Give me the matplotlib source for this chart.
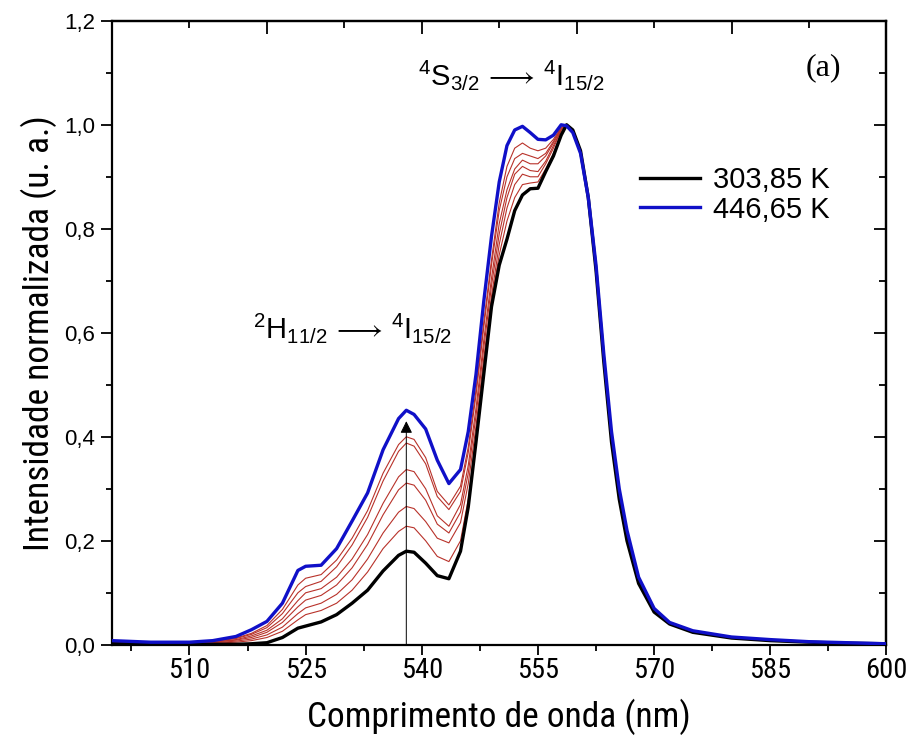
import matplotlib
matplotlib.use("Agg")
import matplotlib.pyplot as plt
from matplotlib import font_manager
from matplotlib.font_manager import FontProperties
from matplotlib.ticker import FixedLocator, FuncFormatter, MultipleLocator

# ---------------- fonts ----------------
SANS = 'Liberation Sans'
SERIF = 'Liberation Serif'


def find_narrow():
    prefs = ['Liberation Sans Narrow', 'Arial Narrow', 'Roboto Condensed',
             'Open Sans Condensed', 'Noto Sans', 'Open Sans', 'Roboto', 'DejaVu Sans']
    cands = []
    for f in font_manager.fontManager.ttflist:
        st = f.stretch
        if isinstance(st, str):
            st = font_manager.stretch_dict.get(st, 500)
        lowfile = f.fname.lower()
        narrowish = (st < 500) or ('narrow' in lowfile) or ('condensed' in lowfile) \
            or ('narrow' in f.name.lower()) or ('condensed' in f.name.lower())
        if not narrowish:
            continue
        if f.style != 'normal':
            continue
        w = f.weight if isinstance(f.weight, int) else font_manager.weight_dict.get(f.weight, 400)
        if w != 400:
            continue
        cands.append((f.name, f.fname))
    for p in prefs:
        for name, fn in cands:
            if name == p:
                return fn
    return None


narrow_file = find_narrow()
if narrow_file:
    NARROW_FP = lambda size: FontProperties(fname=narrow_file, size=size)
else:
    NARROW_FP = lambda size: FontProperties(family=SANS, size=size)

plt.rcParams['font.family'] = [SANS, 'DejaVu Sans']
plt.rcParams['mathtext.fontset'] = 'custom'
plt.rcParams['mathtext.rm'] = SANS
plt.rcParams['mathtext.it'] = SANS
plt.rcParams['mathtext.fallback'] = 'stixsans'

# ---------------- data ----------------
wavelength = [500, 505, 510, 513, 516, 518, 520, 522, 524, 525, 527, 529, 531, 533, 535,
              537, 538, 539, 540.5, 542, 543.5, 545, 546, 547, 548, 549, 550, 551, 552,
              553, 554, 555, 556, 557, 558, 558.7, 559.5, 560.5, 561.5, 562.5, 563.5,
              564.5, 565.5, 566.5, 568, 570, 572, 575, 580, 585, 590, 595, 600]

black_303 = [0.002, 0.001, 0.001, 0.001, 0.001, 0.002, 0.004, 0.014, 0.032, 0.036, 0.044,
             0.058, 0.080, 0.105, 0.142, 0.172, 0.180, 0.178, 0.157, 0.133, 0.127, 0.180,
             0.265, 0.390, 0.520, 0.650, 0.730, 0.780, 0.835, 0.865, 0.877, 0.878, 0.910,
             0.940, 0.980, 1.000, 0.990, 0.950, 0.860, 0.720, 0.545, 0.390, 0.280, 0.200,
             0.118, 0.063, 0.040, 0.024, 0.013, 0.008, 0.005, 0.003, 0.002]

red_1 = [0.003, 0.002, 0.002, 0.003, 0.005, 0.008, 0.014, 0.026, 0.048, 0.058, 0.066,
         0.080, 0.105, 0.140, 0.185, 0.218, 0.228, 0.225, 0.200, 0.170, 0.160, 0.200,
         0.280, 0.400, 0.535, 0.660, 0.750, 0.815, 0.860, 0.885, 0.888, 0.890, 0.915,
         0.945, 0.985, 1.000, 0.990, 0.950, 0.860, 0.720, 0.550, 0.395, 0.285, 0.205,
         0.120, 0.065, 0.041, 0.025, 0.014, 0.009, 0.005, 0.003, 0.002]

red_2 = [0.004, 0.003, 0.003, 0.004, 0.007, 0.011, 0.019, 0.034, 0.060, 0.071, 0.080,
         0.097, 0.125, 0.165, 0.215, 0.255, 0.266, 0.262, 0.237, 0.205, 0.196, 0.235,
         0.310, 0.420, 0.550, 0.670, 0.770, 0.840, 0.885, 0.905, 0.900, 0.900, 0.925,
         0.955, 0.990, 1.000, 0.988, 0.948, 0.860, 0.720, 0.550, 0.400, 0.288, 0.208,
         0.122, 0.066, 0.041, 0.025, 0.014, 0.009, 0.005, 0.003, 0.002]

red_3 = [0.004, 0.003, 0.003, 0.005, 0.009, 0.014, 0.024, 0.043, 0.073, 0.086, 0.095,
         0.115, 0.148, 0.193, 0.250, 0.298, 0.311, 0.307, 0.278, 0.232, 0.215, 0.255,
         0.330, 0.440, 0.570, 0.690, 0.790, 0.860, 0.905, 0.920, 0.912, 0.910, 0.930,
         0.960, 0.990, 1.000, 0.988, 0.948, 0.860, 0.722, 0.552, 0.402, 0.290, 0.210,
         0.123, 0.067, 0.042, 0.026, 0.014, 0.009, 0.005, 0.003, 0.002]

red_4 = [0.005, 0.003, 0.003, 0.005, 0.010, 0.017, 0.028, 0.050, 0.085, 0.100, 0.108,
         0.130, 0.165, 0.212, 0.272, 0.323, 0.337, 0.333, 0.300, 0.248, 0.228, 0.270,
         0.345, 0.455, 0.585, 0.705, 0.810, 0.875, 0.915, 0.932, 0.925, 0.925, 0.940,
         0.965, 0.992, 1.000, 0.988, 0.948, 0.862, 0.724, 0.554, 0.404, 0.292, 0.212,
         0.124, 0.067, 0.042, 0.026, 0.014, 0.009, 0.005, 0.003, 0.002]

red_5 = [0.005, 0.004, 0.004, 0.006, 0.012, 0.020, 0.033, 0.060, 0.100, 0.112, 0.122,
         0.150, 0.192, 0.245, 0.315, 0.372, 0.388, 0.382, 0.348, 0.285, 0.260, 0.295,
         0.370, 0.480, 0.610, 0.730, 0.835, 0.900, 0.935, 0.945, 0.940, 0.935, 0.945,
         0.968, 0.994, 1.000, 0.987, 0.947, 0.862, 0.726, 0.556, 0.406, 0.294, 0.214,
         0.125, 0.068, 0.042, 0.026, 0.015, 0.009, 0.006, 0.004, 0.002]

red_6 = [0.006, 0.004, 0.004, 0.007, 0.013, 0.022, 0.037, 0.068, 0.115, 0.128, 0.135,
         0.163, 0.205, 0.258, 0.330, 0.385, 0.400, 0.395, 0.360, 0.295, 0.269, 0.305,
         0.380, 0.490, 0.620, 0.740, 0.850, 0.920, 0.955, 0.965, 0.955, 0.950, 0.955,
         0.972, 0.995, 1.000, 0.986, 0.946, 0.861, 0.728, 0.558, 0.408, 0.296, 0.216,
         0.127, 0.069, 0.043, 0.027, 0.015, 0.010, 0.006, 0.004, 0.002]

blue_446 = [0.008, 0.005, 0.005, 0.008, 0.016, 0.029, 0.045, 0.080, 0.143, 0.151, 0.153,
            0.185, 0.238, 0.292, 0.375, 0.435, 0.451, 0.443, 0.415, 0.355, 0.310, 0.337,
            0.410, 0.520, 0.660, 0.785, 0.890, 0.960, 0.990, 0.997, 0.985, 0.972, 0.971,
            0.980, 1.000, 0.998, 0.985, 0.945, 0.860, 0.730, 0.560, 0.410, 0.300, 0.220,
            0.130, 0.070, 0.043, 0.027, 0.015, 0.010, 0.006, 0.004, 0.002]

red_series = [red_1, red_2, red_3, red_4, red_5, red_6]
legend_labels = ['303,85 K', '446,65 K']
x_major = [510, 525, 540, 555, 570, 585, 600]

arrow_x = 538.0
arrow_top = 0.43

label_s = r'$\mathregular{^4S_{3/2}\,\longrightarrow\,^4I_{15/2}}$'
label_h = r'$\mathregular{^2H_{11/2}\,\longrightarrow\,^4I_{15/2}}$'

# ---------------- figure ----------------
fig = plt.figure(figsize=(9.11, 7.42), dpi=100)
ax = fig.add_axes([0.123, 0.131, 0.850, 0.841])

for r in red_series:
    ax.plot(wavelength, r, color='#b8322a', lw=0.8, zorder=2)
ax.plot(wavelength, black_303, color='black', lw=2.4, zorder=3, label=legend_labels[0])
ax.plot(wavelength, blue_446, color='#1010c8', lw=2.4, zorder=4, label=legend_labels[1])

ax.annotate('', xy=(arrow_x, arrow_top), xytext=(arrow_x, 0.0),
            arrowprops=dict(arrowstyle='-|>', color='black', lw=0.7,
                            mutation_scale=18, shrinkA=0, shrinkB=0),
            zorder=6)

ax.set_xlim(500, 600)
ax.set_ylim(0, 1.2)

ax.xaxis.set_major_locator(FixedLocator(x_major))
ax.xaxis.set_minor_locator(FixedLocator([502.5, 517.5, 532.5, 547.5, 562.5, 577.5, 592.5]))
ax.yaxis.set_major_locator(MultipleLocator(0.2))
ax.yaxis.set_minor_locator(MultipleLocator(0.1))
ax.yaxis.set_major_formatter(FuncFormatter(lambda v, p: f'{v:.1f}'.replace('.', ',')))

ax.tick_params(axis='x', which='major', direction='out', length=7, width=1.3, pad=2)
ax.tick_params(axis='x', which='minor', direction='out', length=4, width=1.3)
ax.tick_params(axis='y', which='major', direction='out', length=8, width=1.3, labelsize=16, pad=4)
ax.tick_params(axis='y', which='minor', direction='out', length=4, width=1.3)
ax.set_xticks(x_major)
ax.set_xticklabels([str(v) for v in x_major], fontproperties=NARROW_FP(20.5))

for s in ax.spines.values():
    s.set_linewidth(1.6)

top = ax.secondary_xaxis('top')
top.xaxis.set_major_locator(FixedLocator([520, 540, 560, 580, 600]))
top.xaxis.set_minor_locator(FixedLocator([510, 530, 550, 570, 590]))
top.tick_params(which='major', direction='in', length=9, width=1.3, labeltop=False)
top.tick_params(which='minor', direction='in', length=5, width=1.3)
top.spines['top'].set_linewidth(1.6)

right = ax.secondary_yaxis('right')
right.yaxis.set_major_locator(MultipleLocator(0.2))
right.yaxis.set_minor_locator(MultipleLocator(0.1))
right.tick_params(which='major', direction='in', length=9, width=1.3, labelright=False)
right.tick_params(which='minor', direction='in', length=5, width=1.3)
right.spines['right'].set_linewidth(1.6)

ax.set_xlabel('Comprimento de onda (nm)', fontproperties=NARROW_FP(25.5), labelpad=10)
ax.set_ylabel('Intensidade normalizada (u. a.)', fontproperties=NARROW_FP(25.5), labelpad=5)

ax.text(0.395, 0.913, label_s, transform=ax.transAxes, fontsize=21, ha='left', va='center')
ax.text(0.182, 0.508, label_h, transform=ax.transAxes, fontsize=21, ha='left', va='center')
ax.text(0.918, 0.925, '(a)', transform=ax.transAxes, fontsize=23, fontfamily=SERIF,
        ha='center', va='center')

ax.legend(loc='center left', bbox_to_anchor=(0.682, 0.721), frameon=False, fontsize=21,
          handlelength=2.05, handletextpad=0.45, borderpad=0, borderaxespad=0,
          labelspacing=0.05)

fig.savefig('out.png', dpi=100)
